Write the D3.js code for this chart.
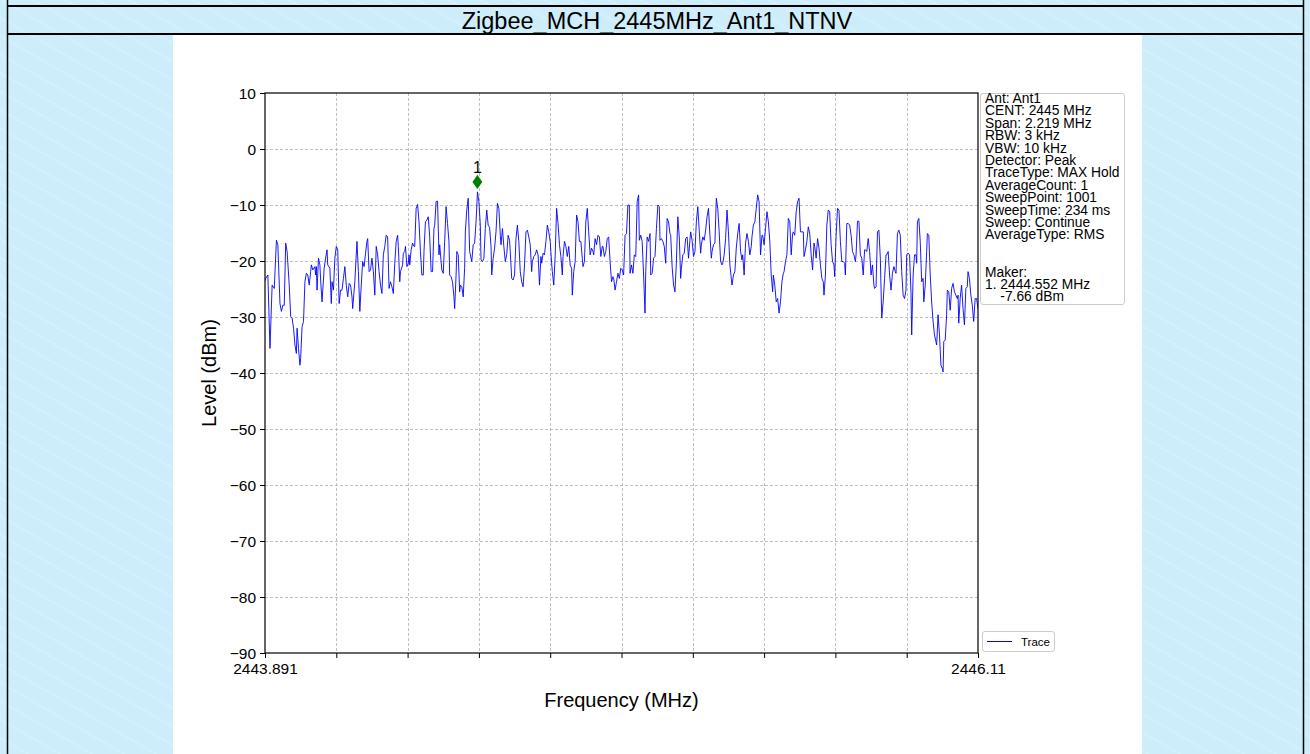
<!DOCTYPE html>
<html><head><meta charset="utf-8">
<script src="https://cdn.jsdelivr.net/npm/d3@7"></script>
<style>html,body{margin:0;padding:0;overflow:hidden;background:#cdedfb}</style>
</head><body><svg id="c" width="1310" height="754"></svg>
<script>
const title = "Zigbee_MCH_2445MHz_Ant1_NTNV";
const startFreq = 2443.891, stopFreq = 2446.11, sweepPoints = 1001;
const yTicks = [10, 0, -10, -20, -30, -40, -50, -60, -70, -80, -90];
const xTickLabels = ["2443.891", "", "", "", "", "", "", "", "", "", "2446.11"];
const xLabel = "Frequency (MHz)", yLabel = "Level (dBm)";
const markerFreq = 2444.552, markerLevel = -7.66, markerName = "1";
const infoLines = ["Ant: Ant1","CENT: 2445 MHz","Span: 2.219 MHz","RBW: 3 kHz","VBW: 10 kHz","Detector: Peak","TraceType: MAX Hold","AverageCount: 1","SweepPoint: 1001","SweepTime: 234 ms","Sweep: Continue","AverageType: RMS","","","Maker:","1. 2444.552 MHz","    -7.66 dBm"];
const legendLabel = "Trace";
// [sweep point index, level dBm]
const tracePoints = [
[0,-23.5],[1,-23.1],[4,-22.5],[7,-35.6],[10,-24.3],[13,-24.9],[16,-16.3],[18,-17.1],[21,-27.6],[23,-29.0],[25,-27.9],[27,-27.9],[29,-16.8],[31,-18.3],[34,-24.3],[36,-29.9],[38,-30.2],[40,-32.0],[42,-35.0],[44,-36.5],[45,-32.0],[47,-35.6],[49,-38.6],[50,-37.4],[52,-31.7],[54,-30.8],[56,-23.7],[58,-22.2],[60,-22.5],[62,-24.3],[64,-21.9],[65,-20.7],[67,-21.6],[70,-21.0],[71,-22.5],[72,-21.0],[73,-25.2],[75,-19.5],[77,-20.7],[78,-23.4],[80,-27.3],[83,-21.3],[85,-19.5],[87,-18.0],[88,-20.7],[91,-21.3],[93,-27.6],[94,-23.7],[96,-25.2],[98,-19.5],[100,-17.4],[102,-18.0],[104,-27.6],[106,-25.2],[108,-25.2],[110,-23.1],[112,-21.0],[114,-24.3],[116,-26.4],[118,-24.0],[120,-24.3],[122,-26.4],[123,-28.5],[126,-23.7],[128,-18.9],[129,-16.5],[131,-21.9],[133,-29.0],[135,-24.3],[137,-20.1],[139,-21.0],[141,-18.6],[143,-16.5],[144,-16.0],[146,-21.9],[148,-21.6],[150,-19.5],[152,-21.9],[154,-26.1],[156,-17.4],[158,-18.9],[160,-21.9],[162,-24.3],[164,-25.8],[166,-18.9],[168,-17.4],[170,-15.4],[172,-15.7],[174,-24.9],[176,-23.7],[178,-24.6],[180,-25.8],[182,-20.4],[184,-16.5],[186,-15.4],[187,-17.4],[189,-23.7],[190,-21.9],[193,-20.7],[194,-18.6],[196,-18.3],[197,-17.4],[199,-21.0],[201,-20.4],[202,-18.9],[203,-20.7],[205,-18.0],[207,-16.8],[209,-17.4],[210,-17.4],[212,-10.6],[214,-9.9],[216,-13.0],[218,-18.3],[220,-22.5],[222,-22.5],[223,-18.3],[225,-13.0],[227,-12.7],[229,-12.1],[231,-15.7],[233,-21.9],[235,-21.9],[237,-14.2],[238,-13.6],[240,-9.4],[242,-9.3],[244,-18.9],[245,-17.1],
[248,-21.6],[250,-22.2],[252,-16.5],[254,-10.3],[256,-13.3],[258,-16.5],[259,-22.5],[261,-22.8],[263,-23.7],[265,-26.4],[266,-28.5],[268,-22.5],[269,-18.3],[271,-18.9],[273,-25.5],[274,-24.3],[276,-24.6],[278,-26.4],[280,-21.3],[281,-14.8],[283,-10.9],[285,-8.8],[287,-18.3],[288,-18.9],[290,-20.1],[292,-17.1],[294,-16.8],[296,-13.0],[298,-7.66],[300,-9.4],[302,-13.6],[303,-19.8],[305,-20.1],[307,-19.5],[309,-14.2],[311,-10.9],[313,-13.6],[315,-14.0],[317,-17.4],[318,-22.5],[320,-19.5],[322,-17.7],[324,-14.8],[326,-9.7],[328,-10.6],[330,-15.4],[331,-17.1],[333,-14.2],[335,-17.4],[337,-20.1],[339,-18.9],[341,-15.4],[343,-16.3],[344,-18.3],[346,-23.1],[348,-23.4],[350,-22.5],[352,-16.0],[354,-13.6],[356,-16.5],[358,-21.9],[360,-23.7],[362,-24.6],[364,-20.7],[366,-14.8],[368,-14.5],[370,-15.7],[372,-17.1],[374,-21.9],[375,-20.1],[377,-19.2],[379,-18.9],[381,-18.0],[383,-18.9],[385,-24.3],[387,-19.2],[388,-20.4],[390,-18.6],[392,-18.9],[394,-16.5],[396,-13.6],[398,-14.8],[400,-16.5],[402,-20.4],[403,-21.9],[405,-24.3],[407,-19.0],[409,-10.6],[411,-13.3],[413,-17.1],[415,-19.2],[417,-22.5],[418,-19.2],[420,-16.5],[422,-17.4],[424,-19.2],[426,-17.4],[428,-20.7],[430,-21.3],[431,-26.1],[433,-21.9],[435,-20.1],[437,-11.8],[439,-13.0],[441,-16.5],[443,-16.5],[445,-19.5],[446,-21.0],[448,-20.1],[450,-13.0],[452,-10.6],[454,-14.8],[456,-18.9],[458,-17.7],[460,-18.3],[461,-18.9],[463,-16.0],[465,-17.1],[467,-15.4],[469,-15.7],[471,-19.2],[473,-17.4],[474,-17.4],[476,-19.2],[478,-18.3],[480,-16.0],[482,-15.7],[484,-20.1],[486,-23.7],[488,-22.8],[489,-23.1],[491,-25.2],[493,-23.7],[495,-22.2],
[497,-23.1],[499,-21.3],[501,-21.6],[503,-22.5],[505,-15.4],[507,-15.1],[509,-10.0],[511,-10.0],[512,-22.2],[514,-20.7],[516,-22.2],[518,-18.9],[520,-19.2],[522,-9.4],[524,-8.2],[525,-16.3],[527,-15.4],[529,-16.5],[531,-22.5],[533,-29.3],[534,-21.9],[536,-15.7],[538,-16.5],[540,-15.1],[541,-22.5],[543,-22.2],[545,-19.5],[547,-19.2],[549,-14.2],[551,-10.0],[553,-10.3],[554,-16.3],[556,-16.0],[558,-16.5],[560,-17.4],[562,-20.4],[564,-12.4],[566,-13.0],[568,-15.1],[569,-15.4],[571,-21.0],[573,-24.3],[575,-25.5],[577,-20.1],[579,-12.1],[581,-15.7],[583,-23.1],[584,-21.3],[586,-18.9],[588,-18.6],[590,-16.0],[592,-15.7],[594,-19.5],[596,-16.3],[597,-14.8],[599,-16.3],[601,-19.2],[603,-18.3],[605,-13.0],[607,-10.3],[609,-14.5],[611,-18.6],[612,-17.1],[614,-15.7],[616,-16.3],[618,-14.5],[620,-12.1],[622,-10.6],[624,-15.4],[626,-19.5],[627,-18.3],[629,-17.1],[631,-16.8],[633,-8.8],[635,-10.6],[637,-14.8],[639,-20.1],[641,-20.7],[642,-20.4],[644,-18.9],[646,-16.0],[648,-10.9],[650,-14.8],[652,-20.7],[654,-23.1],[655,-24.3],[657,-22.5],[659,-21.9],[661,-17.7],[663,-15.1],[665,-13.3],[667,-18.3],[669,-19.8],[670,-18.9],[672,-22.5],[674,-16.8],[676,-15.1],[678,-16.5],[680,-18.9],[682,-17.4],[683,-15.7],[685,-13.6],[687,-13.0],[689,-10.6],[691,-8.2],[693,-9.4],[695,-18.9],[697,-15.4],[698,-15.4],[700,-17.1],[702,-14.2],[704,-11.2],[706,-13.0],[708,-16.5],[710,-22.5],[712,-25.5],[713,-22.5],[715,-24.3],[717,-27.3],[719,-26.7],[721,-29.3],[723,-27.3],[725,-23.7],[727,-22.2],[728,-21.9],[730,-20.1],[732,-18.9],[734,-12.4],[736,-13.0],[738,-18.9],[740,-15.1],[741,-14.8],[743,-15.4],
[745,-11.2],[747,-9.4],[749,-8.8],[751,-14.8],[753,-14.8],[755,-14.8],[756,-19.2],[758,-18.0],[760,-16.5],[762,-13.9],[764,-15.1],[766,-18.9],[768,-21.6],[770,-16.8],[771,-17.4],[773,-19.5],[775,-16.0],[777,-17.7],[779,-20.7],[781,-23.1],[783,-23.7],[784,-26.1],[786,-22.5],[788,-13.6],[790,-10.9],[792,-11.2],[794,-17.1],[796,-20.1],[798,-20.7],[799,-22.8],[801,-15.4],[803,-10.6],[805,-10.9],[807,-16.5],[809,-20.1],[811,-20.1],[813,-20.4],[814,-22.5],[816,-13.3],[818,-13.3],[820,-13.6],[822,-15.4],[824,-18.3],[826,-18.9],[828,-20.1],[829,-18.9],[831,-12.9],[833,-12.9],[835,-18.9],[837,-19.5],[839,-22.5],[841,-18.0],[842,-18.0],[844,-18.3],[846,-16.0],[848,-18.3],[850,-22.5],[852,-20.7],[854,-24.3],[855,-24.9],[857,-24.6],[859,-14.8],[861,-14.5],[863,-19.5],[865,-30.2],[867,-27.3],[869,-23.1],[871,-18.9],[872,-18.9],[874,-18.3],[876,-22.5],[878,-25.2],[880,-22.2],[882,-21.0],[884,-21.9],[885,-22.2],[887,-15.1],[889,-14.5],[891,-15.4],[893,-21.9],[895,-26.1],[897,-26.7],[899,-25.2],[900,-18.9],[902,-18.6],[904,-18.9],[906,-25.5],[907,-33.2],[909,-22.5],[911,-18.9],[913,-18.9],[914,-20.4],[915,-13.0],[917,-12.4],[919,-16.5],[921,-23.7],[923,-23.1],[924,-27.3],[926,-24.3],[928,-18.3],[929,-15.1],[931,-15.4],[933,-22.5],[935,-27.3],[937,-30.8],[939,-33.2],[941,-34.4],[942,-35.0],[944,-29.6],[946,-33.2],[948,-38.6],[950,-39.2],[951,-39.8],[952,-34.4],[954,-34.1],[956,-29.6],[957,-25.2],[959,-25.5],[961,-28.8],[963,-24.9],[965,-24.0],[967,-25.5],[969,-26.1],[971,-26.7],[972,-26.1],[973,-31.1],[975,-26.7],[977,-24.3],[979,-28.5],[981,-31.4],[983,-24.9],[985,-24.6],[986,-21.9],[988,-23.1],[990,-26.1],[992,-27.9],[994,-30.8],[996,-26.7],[998,-26.7],[1000,-28.5]
];

const svg = d3.select("#c");
const font = "'Liberation Sans', Arial, sans-serif";

// page background pattern
const defs = svg.append("defs");
const pat = defs.append("pattern").attr("id","bgp").attr("width",16).attr("height",16)
  .attr("patternUnits","userSpaceOnUse").attr("patternTransform","rotate(-60)");
pat.append("rect").attr("width",16).attr("height",16).attr("fill","#cdedfb");
pat.append("rect").attr("width",2).attr("height",16).attr("fill","#d5f0fc");
svg.append("rect").attr("width",1310).attr("height",754).attr("fill","url(#bgp)");

// white image panel
svg.append("rect").attr("x",173).attr("y",35).attr("width",969).attr("height",719).attr("fill","#fff");

// table borders
const bc = "#000";
svg.append("line").attr("x1",7).attr("x2",1304).attr("y1",6).attr("y2",6).attr("stroke",bc).attr("stroke-width",2);
svg.append("line").attr("x1",7).attr("x2",1304).attr("y1",34).attr("y2",34).attr("stroke",bc).attr("stroke-width",2);
svg.append("line").attr("x1",7.5).attr("x2",7.5).attr("y1",0).attr("y2",754).attr("stroke",bc).attr("stroke-width",1.5);
svg.append("line").attr("x1",1303.5).attr("x2",1303.5).attr("y1",0).attr("y2",754).attr("stroke",bc).attr("stroke-width",1.5);

svg.append("text").attr("x",657).attr("y",29).attr("text-anchor","middle")
  .attr("font-family",font).attr("font-size",23.5).attr("fill","#000").text(title);

// plot area
const L = 265, R = 978, T = 93, B = 653;
const x = d3.scaleLinear().domain([startFreq, stopFreq]).range([L, R]);
const y = d3.scaleLinear().domain([-90, 10]).range([B, T]);
const step = (stopFreq - startFreq) / (sweepPoints - 1);
const xTicks = xTickLabels.map((d, i) => startFreq + i * (stopFreq - startFreq) / (xTickLabels.length - 1));

const g = svg.append("g");
// grid
g.selectAll(".gx").data(xTicks.slice(1, -1)).join("line")
  .attr("x1", d => Math.round(x(d)) + 0.5).attr("x2", d => Math.round(x(d)) + 0.5).attr("y1", T).attr("y2", B)
  .attr("stroke", "#b0b0b0").attr("stroke-width", 0.8).attr("stroke-dasharray", "3,2");
g.selectAll(".gy").data(yTicks.slice(1, -1)).join("line")
  .attr("x1", L).attr("x2", R).attr("y1", d => Math.round(y(d)) + 0.5).attr("y2", d => Math.round(y(d)) + 0.5)
  .attr("stroke", "#b0b0b0").attr("stroke-width", 0.8).attr("stroke-dasharray", "3,2");

// trace
const clip = defs.append("clipPath").attr("id","pc");
clip.append("rect").attr("x",L).attr("y",T).attr("width",R-L).attr("height",B-T);
const line = d3.line().x(d => x(startFreq + d[0] * step)).y(d => y(d[1]));
g.append("path").datum(tracePoints).attr("d", line).attr("fill","none")
  .attr("stroke","#0000ff").attr("stroke-width",0.9).attr("clip-path","url(#pc)");

// axes
const xAxis = d3.axisBottom(x).tickValues(xTicks).tickSize(5).tickPadding(3)
  .tickFormat((d, i) => xTickLabels[i]);
const yAxis = d3.axisLeft(y).tickValues(yTicks).tickSize(5).tickPadding(4)
  .tickFormat(d => d < 0 ? "\u2212" + Math.abs(d) : d);
const ga = g.append("g").attr("transform", `translate(0,${B})`).call(xAxis);
const gb = g.append("g").attr("transform", `translate(${L},0)`).call(yAxis);
[ga, gb].forEach(a => {
  a.select(".domain").remove();
  a.selectAll("line").attr("stroke","#000").attr("stroke-width",1);
  a.selectAll("text").attr("font-family", font).attr("font-size", 15.5).attr("fill","#000");
});
ga.selectAll("text").attr("dy","0.85em");
gb.selectAll("text").attr("dy","0.35em");
g.append("rect").attr("x",L).attr("y",T).attr("width",R-L).attr("height",B-T)
  .attr("fill","none").attr("stroke","#000").attr("stroke-width",1.2);

// axis labels
svg.append("text").attr("x",(L+R)/2).attr("y",707).attr("text-anchor","middle")
  .attr("font-family",font).attr("font-size",20).text(xLabel);
svg.append("text").attr("transform",`translate(216,${(T+B)/2}) rotate(-90)`).attr("text-anchor","middle")
  .attr("font-family",font).attr("font-size",20).text(yLabel);

// marker
const mx = x(markerFreq), my = y(markerLevel) - 10;
svg.append("path").attr("d", d3.symbol(d3.symbolDiamond, 40)())
  .attr("transform", `translate(${mx},${my}) scale(1.45,1.2)`).attr("fill","#008000");
svg.append("text").attr("x", mx).attr("y", my - 9).attr("text-anchor","middle")
  .attr("font-family",font).attr("font-size",16).text(markerName);

// info box
svg.append("rect").attr("x",980.5).attr("y",93.5).attr("width",144).attr("height",211).attr("rx",2.5)
  .attr("fill","#fff").attr("stroke","#cccccc").attr("stroke-width",1);
const it = svg.append("text").attr("font-family",font).attr("font-size",13.8).attr("fill","#000");
infoLines.forEach((s, i) => {
  it.append("tspan").attr("x",985).attr("y",103 + i * 12.4).style("white-space","pre").text(s);
});

// legend
svg.append("rect").attr("x",982.5).attr("y",631.5).attr("width",72).attr("height",20).attr("rx",2.5)
  .attr("fill","#fff").attr("stroke","#cccccc");
svg.append("line").attr("x1",987).attr("x2",1012).attr("y1",641.5).attr("y2",641.5).attr("stroke","#0000ff").attr("stroke-width",1);
svg.append("text").attr("x",1021).attr("y",645.5).attr("font-family",font).attr("font-size",11.5).text(legendLabel);
</script></body></html>
